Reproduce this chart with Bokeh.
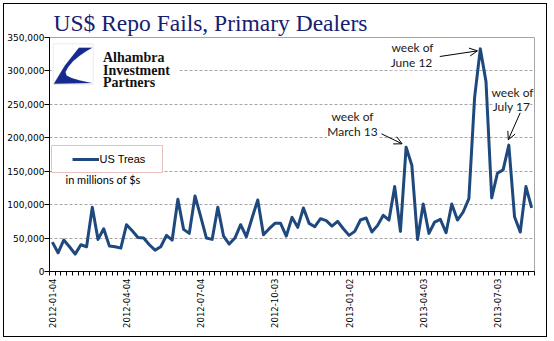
import math
import pandas as pd
from bokeh.plotting import figure
from bokeh.models import (ColumnDataSource, FixedTicker, NumeralTickFormatter, Label, Arrow,
                          OpenHead, BoxAnnotation, PolyAnnotation, Legend, LegendItem, Range1d)
from bokeh.embed import file_html
from bokeh.resources import INLINE

# ---------------- data ----------------
start_week = "2012-01-04"
us_treas = [
    44000, 28000, 47000, 37000, 26000, 40000, 37000, 96000, 48000, 64000,
    38000, 37000, 35000, 70000, 61000, 51000, 50000, 40000, 32000, 37000,
    54000, 47000, 108000, 63000, 57000, 113000, 82000, 50000, 48000, 96000,
    53000, 41000, 50000, 70000, 52000, 80000, 107000, 55000, 64000, 72000,
    72000, 53000, 81000, 66000, 95000, 72000, 67000, 79000, 76000, 68000,
    75000, 64000, 54000, 60000, 77000, 80000, 59000, 69000, 84000, 77000,
    127000, 60000, 186000, 159000, 48000, 101000, 57000, 74000, 78000, 58000,
    101000, 77000, 89000, 109000, 260000, 333000, 284000, 110000, 147000, 152000,
    189000, 82000, 59000, 127000, 95000,
]
weeks = pd.date_range(start_week, periods=len(us_treas), freq="7D")
week_labels = [d.strftime("%Y-%m-%d") for d in weeks]
tick_labels = ["2012-01-04", "2012-04-04", "2012-07-04", "2012-10-03",
               "2013-01-02", "2013-04-03", "2013-07-03"]
y_ticks = [0, 50000, 100000, 150000, 200000, 250000, 300000, 350000]
series_name = "US Treas"
units_note = "in millions of $s"
title_text = "US$ Repo Fails, Primary Dealers"
logo_lines = ["Alhambra", "Investment", "Partners"]
callouts = [("week of", "March 13", "2013-03-13"),
            ("week of", "June 12", "2013-06-12"),
            ("week of", "July 17", "2013-07-17")]

idx = list(range(len(us_treas)))
src = ColumnDataSource(dict(idx=idx, week=week_labels, us_treas=us_treas))

# ---------------- figure ----------------
ORG = 4                      # canvas origin inside page (margin 3 + border 1)
W, H = 544, 334
FRAME_L, FRAME_R, FRAME_T, FRAME_B = 48, 534, 37, 271   # page coordinates
p = figure(width=W, height=H, output_backend="svg", toolbar_location=None,
           x_range=Range1d(-0.5, len(us_treas) - 0.5), y_range=Range1d(0, 350000),
           min_border_left=FRAME_L - ORG, min_border_right=W - (FRAME_R - ORG),
           min_border_top=FRAME_T - ORG, min_border_bottom=H - (FRAME_B - ORG))
p.styles = {"border": "1px solid black", "margin": "3px 0 0 3px"}
p.background_fill_color = "white"
p.border_fill_color = "white"
p.outline_line_color = "#A6A6A6"
p.outline_line_width = 1

p.title.text = title_text
p.title.text_font = "Liberation Serif"
p.title.text_font_size = "23.5px"
p.title.text_font_style = "normal"
p.title.text_color = "#16206E"
p.title.align = "left"
p.title.offset = 4
p.title.standoff = 4

r = p.line(x="idx", y="us_treas", source=src, line_color="#1F497D", line_width=3,
           line_join="round")

# y axis
p.yaxis.ticker = FixedTicker(ticks=y_ticks)
p.yaxis.formatter = NumeralTickFormatter(format="0,0")
p.yaxis.major_tick_out = 5
p.yaxis.major_tick_in = 0
p.yaxis.minor_tick_out = 0
p.yaxis.axis_line_color = "black"
p.yaxis.major_tick_line_color = "black"
p.yaxis.major_label_standoff = 0
p.yaxis.major_label_text_font = "DejaVu Sans"
p.yaxis.major_label_text_font_size = "9px"
p.yaxis.major_label_text_color = "black"

# x axis
pos = {week_labels.index(t): t for t in tick_labels}
p.xaxis.ticker = FixedTicker(ticks=sorted(pos.keys()),
                             minor_ticks=[i - 0.5 for i in range(len(us_treas) + 1)])
p.xaxis.major_label_overrides = pos
p.xaxis.major_label_orientation = math.pi / 2
p.xaxis.major_tick_out = 0
p.xaxis.major_tick_in = 0
p.xaxis.minor_tick_out = 4
p.xaxis.minor_tick_in = 0
p.xaxis.minor_tick_line_color = "black"
p.xaxis.axis_line_color = "black"
p.xaxis.major_label_standoff = 3
p.xaxis.major_label_text_font = "DejaVu Sans"
p.xaxis.major_label_text_font_size = "8.5px"
p.xaxis.major_label_text_color = "black"

p.xgrid.visible = False
p.ygrid.grid_line_color = "#A6A6A6"
p.ygrid.grid_line_dash = "3 2"

def sy(y_page):
    return FRAME_B - y_page

def sx(x_page):
    return x_page - FRAME_L

scr = dict(left_units="screen", right_units="screen", top_units="screen", bottom_units="screen")

# logo background and box
p.add_layout(BoxAnnotation(left=sx(50), right=sx(178), top=sy(42), bottom=sy(86),
                           fill_color="white", fill_alpha=1, line_alpha=0, **scr))
p.add_layout(BoxAnnotation(left=sx(51.7), right=sx(91.7), top=sy(43.3), bottom=sy(84),
                           fill_color="white", fill_alpha=1, line_color="#BFBFBF", line_width=1, **scr))
logo_shape = [(25.7, 4), (39, 4), (33.3, 7.3), (26.7, 11.7), (20, 17.3), (15, 23.3),
              (12.3, 28.3), (13.3, 31.7), (18.3, 34.3), (26.7, 36.7), (38.3, 39.3),
              (0.7, 40), (11.7, 21.7)]
p.add_layout(PolyAnnotation(xs=[sx(51.7 + bx) for bx, by in logo_shape],
                            ys=[sy(43.3 + by) for bx, by in logo_shape],
                            xs_units="screen", ys_units="screen",
                            fill_color="#172B8F", fill_alpha=1, line_color="#172B8F", line_width=0.5))
for k, t in enumerate(logo_lines):
    p.add_layout(Label(x=sx(101.5), y=sy(57.3 + 12.2 * k), x_units="screen", y_units="screen",
                       text=t, text_font="Liberation Serif", text_font_style="bold",
                       text_font_size="14px", text_color="#111111", text_baseline="alphabetic"))

# legend box
p.add_layout(BoxAnnotation(left=sx(50), right=sx(161), top=sy(145), bottom=sy(172),
                           fill_color="white", fill_alpha=1, line_color="#B8312F", line_width=1, **scr))
legend = Legend(items=[LegendItem(label=series_name, renderers=[r])],
                location=(sx(70.5), sy(164.5)), glyph_width=27, glyph_height=12,
                label_standoff=1, padding=0, margin=0, spacing=0, label_height=12,
                border_line_alpha=0, background_fill_alpha=0,
                label_text_font="Liberation Sans", label_text_font_size="11px",
                label_text_color="black")
p.add_layout(legend)

p.add_layout(Label(x=sx(64), y=sy(179), x_units="screen", y_units="screen", text=units_note,
                   text_font="Lato", text_font_size="11px", text_color="black",
                   text_baseline="middle"))

# callouts
text_pos = [((351, 115.7), (351, 131)), ((411, 46.7), (410, 62.3)), ((511, 91.7), (510, 106))]
arrow_start = [(380, 133.3), (438.3, 56), (518.7, 112.3)]
tip_offset = [(-0.7, 5000), (-0.5, -3000), (-0.1, 8000)]
for (l1, l2, wk), (pa, pb), st, off in zip(callouts, text_pos, arrow_start, tip_offset):
    for txt, (tx, ty) in ((l1, pa), (l2, pb)):
        p.add_layout(Label(x=sx(tx), y=sy(ty), x_units="screen", y_units="screen", text=txt,
                           text_font="Lato", text_font_size="12px", text_color="#1a1a1a",
                           text_align="center", text_baseline="middle",
                           background_fill_color="white", background_fill_alpha=1))
    i = week_labels.index(wk)
    p.add_layout(Arrow(x_start=sx(st[0]), y_start=sy(st[1]), start_units="screen",
                       x_end=i + off[0], y_end=us_treas[i] + off[1], end_units="data",
                       line_color="black", line_width=1,
                       end=OpenHead(size=8, line_width=1, line_color="black")))

open("out.html", "w").write(file_html(p, INLINE))
